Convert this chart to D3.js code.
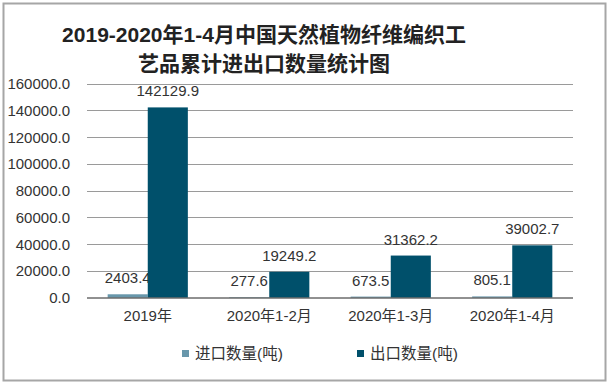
<!DOCTYPE html>
<html>
<head>
<meta charset="utf-8">
<script src="https://cdn.jsdelivr.net/npm/d3@7"></script>
<style>
  body { margin: 0; background: #fff; }
  svg text { font-family: "Liberation Sans", Arial, "Noto Sans CJK SC", sans-serif; }
</style>
</head>
<body>
<svg id="chart" width="612" height="386"></svg>
<script>
// chart data
const categories = ['2019年', '2020年1-2月', '2020年1-3月', '2020年1-4月'];
const importValues = [2403.4, 277.6, 673.5, 805.1];
const exportValues = [142129.9, 19249.2, 31362.2, 39002.7];
const yTicks = [0, 20000, 40000, 60000, 80000, 100000, 120000, 140000, 160000];
const seriesNames = ['进口数量(吨)', '出口数量(吨)'];
const colors = ['#6897ab', '#00506b'];

const svg = d3.select('#chart');

// outer frame
svg.append('rect')
    .attr('x', 3.5).attr('y', 3.5)
    .attr('width', 602).attr('height', 377)
    .attr('fill', '#fff')
    .attr('stroke', '#a6a6a6')
    .attr('stroke-width', 2);

// title
const title = svg.append('text')
    .attr('text-anchor', 'middle')
    .attr('font-size', 21)
    .attr('font-weight', 'bold')
    .attr('fill', '#222');
title.append('tspan').attr('x', 264).attr('y', 42).text('2019-2020年1-4月中国天然植物纤维编织工');
title.append('tspan').attr('x', 264).attr('y', 71).text('艺品累计进出口数量统计图');

const plot = { left: 87, right: 573, top: 83.5, bottom: 297.5 };

const x = d3.scaleBand()
    .domain(categories)
    .range([plot.left, plot.right])
    .paddingInner(0.34)
    .paddingOuter(0.17);

const xSub = d3.scaleBand()
    .domain([0, 1])
    .range([0, x.bandwidth()]);

const y = d3.scaleLinear()
    .domain([0, 160000])
    .range([plot.bottom, plot.top]);

// gridlines
svg.append('g')
    .selectAll('line')
    .data(yTicks.filter(d => d > 0))
    .enter().append('line')
    .attr('x1', plot.left).attr('x2', plot.right)
    .attr('y1', d => Math.round(y(d)) + 0.5)
    .attr('y2', d => Math.round(y(d)) + 0.5)
    .attr('stroke', '#9a9a9a')
    .attr('stroke-width', 1);

// y axis labels
svg.append('g')
    .selectAll('text')
    .data(yTicks)
    .enter().append('text')
    .attr('x', 70)
    .attr('y', d => y(d) + 5.5)
    .attr('text-anchor', 'end')
    .attr('font-size', 15)
    .attr('fill', '#333')
    .text(d => d3.format('.1f')(d));

// bars
const groups = svg.append('g')
    .selectAll('g')
    .data(categories)
    .enter().append('g')
    .attr('transform', d => `translate(${x(d)},0)`);

const series = [importValues, exportValues];

groups.each(function (cat, i) {
    const g = d3.select(this);
    series.forEach((vals, s) => {
        const v = vals[i];
        g.append('rect')
            .attr('x', xSub(s))
            .attr('y', y(v))
            .attr('width', xSub.bandwidth())
            .attr('height', plot.bottom - y(v))
            .attr('fill', colors[s]);
        g.append('text')
            .attr('x', xSub(s) + xSub.bandwidth() / 2)
            .attr('y', y(v) - 11)
            .attr('text-anchor', 'middle')
            .attr('font-size', 15)
            .attr('fill', '#333')
            .text(d3.format('.1f')(v));
    });
});

// baseline
svg.append('line')
    .attr('x1', plot.left).attr('x2', plot.right)
    .attr('y1', plot.bottom + 0.5).attr('y2', plot.bottom + 0.5)
    .attr('stroke', '#222')
    .attr('stroke-width', 1);

// x labels
svg.append('g')
    .selectAll('text')
    .data(categories)
    .enter().append('text')
    .attr('x', d => x(d) + x.bandwidth() / 2)
    .attr('y', 321)
    .attr('text-anchor', 'middle')
    .attr('font-size', 15)
    .attr('fill', '#333')
    .text(d => d);

// legend
const legendX = [182, 357];
const legend = svg.append('g')
    .selectAll('g')
    .data(seriesNames)
    .enter().append('g')
    .attr('transform', (d, i) => `translate(${legendX[i]},350)`);

legend.append('rect')
    .attr('width', 7).attr('height', 7)
    .attr('fill', (d, i) => colors[i]);

legend.append('text')
    .attr('x', 13)
    .attr('y', 9)
    .attr('font-size', 15.5)
    .attr('fill', '#333')
    .text(d => d);
</script>
</body>
</html>
